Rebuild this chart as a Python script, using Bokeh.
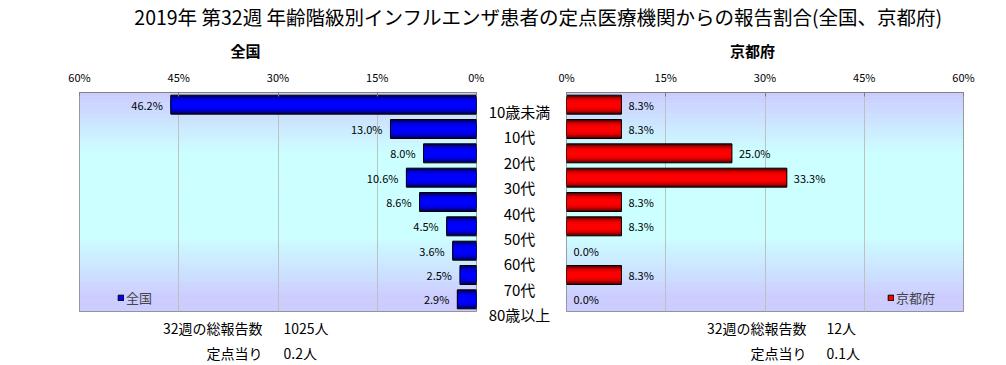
import numpy as np
from bokeh.plotting import figure
from bokeh.layouts import column, row
from bokeh.models import (Range1d, FixedTicker, ColumnDataSource, Legend, LegendItem)
from bokeh.embed import file_html
from bokeh.resources import INLINE
from bokeh.core.properties import value

# ---------------- data ----------------
categories = ["10歳未満", "10代", "20代", "30代", "40代", "50代", "60代", "70代", "80歳以上"]
national = [46.2, 13.0, 8.0, 10.6, 8.6, 4.5, 3.6, 2.5, 2.9]
kyoto = [8.3, 8.3, 25.0, 33.3, 8.3, 8.3, 0.0, 8.3, 0.0]
tick_values = [0, 15, 30, 45, 60]
tick_labels = ["0%", "15%", "30%", "45%", "60%"]
title_text = "2019年 第32週 年齢階級別インフルエンザ患者の定点医療機関からの報告割合(全国、京都府)"
national_name = "全国"
kyoto_name = "京都府"
total_label = "32週の総報告数"
per_label = "定点当り"
national_total = "1025人"
national_per = "0.2人"
kyoto_total = "12人"
kyoto_per = "0.1人"

FONT = "Noto Sans CJK JP"
W = 1006
TOP_H = 60          # title strip height
CH_H = 258          # chart figure height
FOOT_H = 365 - TOP_H - CH_H
MBT = 32
MBB = 7
BAR_H = 0.78
N = len(categories)
L_FRAME = (79, 476)      # page x of left plot area
R_FRAME = (566, 963)     # page x of right plot area
LAB_TOP, LAB_STEP = 111, 25.375   # category label column (page y)

BLUES = ["#000040", "#000080", "#0000B0", "#0000D8", "#0000F0", "#0000FF"]
REDS = ["#400000", "#800000", "#B00000", "#D80000", "#F00000", "#FF0000"]
LAYER_FR = [1.0, 0.9, 0.78, 0.64, 0.48, 0.30]


def bg_colors(n):
    cols = []
    for i in range(n):
        t = (i + 0.5) / n
        g = 1 - abs(t - 0.47) / 0.47
        g = max(0.0, min(1.0, g * 1.7))
        gg = int(204 + 51 * g)
        cols.append("#%02x%02x%02x" % (204, gg, 255))
    return cols


def text_fig(width, height, xr, yr):
    f = figure(width=width, height=height, x_range=xr, y_range=yr,
               output_backend="svg", toolbar_location=None,
               min_border=0, x_axis_location=None, y_axis_location=None,
               outline_line_color=None)
    f.grid.visible = False
    return f


def make_panel(vals, left_side, width, mbl, mbr, shades, name, leg_x):
    ys = list(range(N))
    xr = Range1d(60, 0) if left_side else Range1d(0, 60)
    p = figure(width=width, height=CH_H, x_range=xr, y_range=Range1d(N - 0.5, -0.5),
               x_axis_location="above", y_axis_location=None, output_backend="svg",
               toolbar_location=None, min_border_left=mbl, min_border_right=mbr,
               min_border_top=MBT, min_border_bottom=MBB)
    p.ygrid.visible = False
    p.outline_line_color = "#808080"

    ax = p.xaxis[0]
    ax.ticker = FixedTicker(ticks=tick_values)
    ax.major_label_overrides = {v: l for v, l in zip(tick_values, tick_labels)}
    ax.major_label_text_font = FONT
    ax.major_label_text_font_size = "11px"
    ax.major_label_text_color = "black"
    ax.axis_line_color = "#808080"
    ax.major_tick_in = 4
    ax.major_tick_out = 0
    ax.major_tick_line_color = "#808080"
    ax.minor_tick_line_color = None
    ax.major_label_standoff = 8

    p.xgrid.ticker = FixedTicker(ticks=tick_values)
    p.xgrid.grid_line_color = "#C0C0C0"

    # gradient background
    nb = 60
    step = N / nb
    yb = [-0.5 + step * (i + 0.5) for i in range(nb)]
    bg = p.hbar(y=yb, height=step * 1.15, left=0, right=60, fill_color=bg_colors(nb),
                line_alpha=0)
    bg.level = "image"

    src = ColumnDataSource(dict(
        y=ys, v=vals, txt=["%.1f%%" % v for v in vals],
        la=[0.0 if v == 0 else 1.0 for v in vals]))

    rends = []
    for fr, c in zip(LAYER_FR, shades):
        r = p.hbar(y="y", height=BAR_H * fr, left=0, right="v", source=src, fill_color=c,
                   line_alpha=0)
        rends.append(r)
    border = p.hbar(y="y", height=BAR_H, left=0, right="v", source=src, fill_alpha=0,
                    line_color="black", line_alpha="la", line_width=1)

    p.text(x="v", y="y", text="txt", source=src, x_offset=-8 if left_side else 7,
           text_align="right" if left_side else "left", text_baseline="middle",
           text_font=value(FONT), text_font_size="11px", text_color="black")

    legend = Legend(items=[LegendItem(label=name, renderers=[rends[-1], border])],
                    location=(leg_x, 4), background_fill_alpha=0, border_line_alpha=0,
                    glyph_width=7, glyph_height=7, label_text_font=FONT,
                    label_text_font_size="13px", padding=0, margin=0, label_standoff=2,
                    label_height=14)
    p.add_layout(legend)
    return p


LEFT_W, MID_W = 484, 70
RIGHT_W = W - LEFT_W - MID_W

left = make_panel(national, True, LEFT_W, L_FRAME[0], LEFT_W - L_FRAME[1], BLUES,
                  national_name, 38)
right = make_panel(kyoto, False, RIGHT_W, R_FRAME[0] - LEFT_W - MID_W, W - R_FRAME[1],
                   REDS, kyoto_name, 321)

# title strip with the subtitles (page coordinates)
top = text_fig(W, TOP_H, Range1d(0, W), Range1d(TOP_H, 0))
top.text(x=[538], y=[16], text=[title_text], text_font=value(FONT),
         text_font_size="19.5px", text_align="center", text_baseline="middle")
top.text(x=[245, 752], y=[50, 50], text=[national_name, kyoto_name],
         text_font=value(FONT), text_font_size="15px", text_font_style="bold",
         text_align="center", text_baseline="middle")

# middle column with category labels, spanning charts and footer height
MID_H = CH_H + FOOT_H
i_top = (TOP_H - LAB_TOP) / LAB_STEP
i_bot = (TOP_H + MID_H - LAB_TOP) / LAB_STEP
mid = text_fig(MID_W, MID_H, Range1d(-1, 1), Range1d(i_bot, i_top))
mid.text(x=[0] * N, y=list(range(N)), text=categories,
         text_font=value(FONT), text_font_size="15px", text_align="center",
         text_baseline="middle")


# footnotes: frames of these strips are aligned with the chart frames above them
def footer(width, frame, xr, xv, total, per):
    f = text_fig(width, FOOT_H, Range1d(frame[0], frame[1]),
                 Range1d(TOP_H + CH_H + FOOT_H, TOP_H + CH_H))
    f.text(x=[xr, xr], y=[327, 352], text=[total_label, per_label], text_font=value(FONT),
           text_font_size="14px", text_align="right", text_baseline="middle")
    f.text(x=[xv, xv], y=[327, 352], text=[total, per], text_font=value(FONT),
           text_font_size="14px", text_align="left", text_baseline="middle")
    return f


lfoot = footer(LEFT_W, L_FRAME, 262, 283, national_total, national_per)
rfoot = footer(RIGHT_W, R_FRAME, 806, 826, kyoto_total, kyoto_per)

layout = column(top,
                row(column(left, lfoot, spacing=0), mid, column(right, rfoot, spacing=0),
                    spacing=0),
                spacing=0)
open("out.html", "w").write(file_html(layout, INLINE))
